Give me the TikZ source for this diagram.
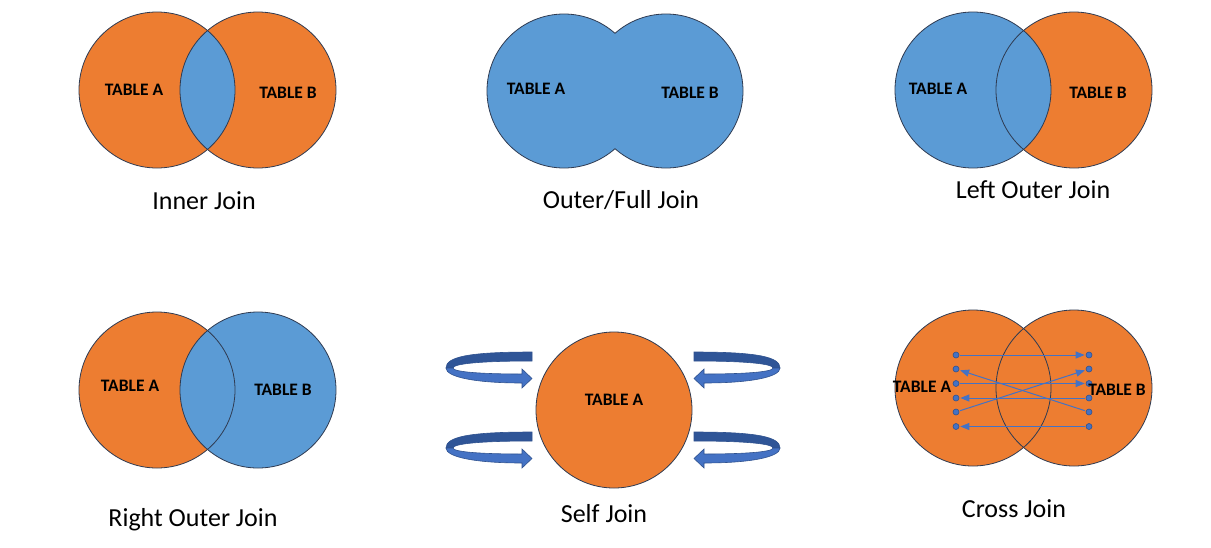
\documentclass[tikz,border=0pt]{standalone}
\usepackage{fontspec}
\setmainfont{Carlito}
\usetikzlibrary{arrows.meta}
\definecolor{vorange}{HTML}{ED7D31}
\definecolor{vblue}{HTML}{5B9BD5}
\definecolor{edge}{HTML}{2F3B52}
\definecolor{afront}{HTML}{4472C4}
\definecolor{aback}{HTML}{2F5597}
\definecolor{aedge}{HTML}{2F528F}
\tikzset{
  ring/.style={draw=edge, line width=0.8pt},
  tlabel/.style={font=\fontsize{17.5}{19}\selectfont\bfseries, inner sep=0pt},
  jlabel/.style={font=\fontsize{26}{30}\selectfont, inner sep=0pt},
  dotnode/.style={circle, fill=afront, draw=aedge, line width=0.6pt, minimum size=6pt, inner sep=0pt},
  carrow/.style={draw=afront, line width=1pt, -{Triangle[length=9pt,width=7pt]}, shorten >=1pt, shorten <=1pt},
  fronts/.style={fill=afront, draw=aedge, line width=0.6pt},
  backs/.style={fill=aback, draw=aedge, line width=0.6pt}
}
\newcommand{\selfarrow}{%
  \path[backs] (532,352) .. controls (468,352) and (446,357) .. (446,368) -- (453,368) .. controls (453,364) and (478,361) .. (532,361) -- cycle;
  \path[fronts] (446,368) .. controls (446,377) and (475,383) .. (522,383) -- (522,388) -- (532,378.5) -- (522,369) -- (522,374) .. controls (482,374) and (453,372) .. (453,368) -- cycle;
}
\begin{document}
\begin{tikzpicture}[x=1pt,y=-1pt]
\useasboundingbox (0,0) rectangle (1211,547);
\fill[white] (0,0) rectangle (1211,547);

% ---------- Inner Join ----------
\fill[vorange] (157,90) circle (78pt);
\fill[vorange] (258,90) circle (78pt);
\begin{scope}
  \clip (157,90) circle (78pt);
  \fill[vblue] (258,90) circle (78pt);
\end{scope}
\draw[ring] (157,90) circle (78pt);
\draw[ring] (258,90) circle (78pt);
\node[tlabel] (iA) at (134,90) {TABLE A};
\node[tlabel] (iB) at (288,93) {TABLE B};
\node[jlabel] (iJ) at (204,201) {Inner Join};

% ---------- Outer/Full Join ----------
\fill[vblue] (564,91) circle (77pt);
\fill[vblue] (666,91) circle (77pt);
\begin{scope}[even odd rule]
  \clip (0,0) rectangle (1211,547) (666,91) circle (77pt);
  \draw[ring] (564,91) circle (77pt);
\end{scope}
\begin{scope}[even odd rule]
  \clip (0,0) rectangle (1211,547) (564,91) circle (77pt);
  \draw[ring] (666,91) circle (77pt);
\end{scope}
\node[tlabel] (oA) at (536,89) {TABLE A};
\node[tlabel] (oB) at (690,93) {TABLE B};
\node[jlabel] (oJ) at (621,200) {Outer/Full Join};

% ---------- Left Outer Join ----------
\fill[vorange] (1074,90) circle (78pt);
\fill[vblue] (973,90) circle (78pt);
\draw[ring] (973,90) circle (78pt);
\draw[ring] (1074,90) circle (78pt);
\node[tlabel] (lA) at (938,89) {TABLE A};
\node[tlabel] (lB) at (1098,93) {TABLE B};
\node[jlabel] (lJ) at (1033,190) {Left Outer Join};

% ---------- Right Outer Join ----------
\fill[vorange] (157,390) circle (78pt);
\fill[vblue] (258,390) circle (78pt);
\draw[ring] (157,390) circle (78pt);
\draw[ring] (258,390) circle (78pt);
\node[tlabel] (rA) at (130,386) {TABLE A};
\node[tlabel] (rB) at (283,390) {TABLE B};
\node[jlabel] (rJ) at (193,520) {Right Outer Join};

% ---------- Self Join ----------
\fill[vorange] (614,410) circle (78pt);
\draw[ring] (614,410) circle (78pt);
\node[tlabel] (sA) at (614,400) {TABLE A};
\node[jlabel] (sJ) at (604,514) {Self Join};
\selfarrow
\begin{scope}[yshift=-80pt]\selfarrow\end{scope}
\begin{scope}[shift={(1226,0)}, xscale=-1]\selfarrow\end{scope}
\begin{scope}[shift={(1226,80)}, xscale=-1]\selfarrow\end{scope}

% ---------- Cross Join ----------
\fill[vorange] (973,388) circle (78pt);
\fill[vorange] (1074,388) circle (78pt);
\draw[ring] (973,388) circle (78pt);
\draw[ring] (1074,388) circle (78pt);
\foreach \i/\yy in {1/355,2/369,3/383.5,4/398,5/412,6/426.5}{
  \node[dotnode] (L\i) at (956,\yy) {};
  \node[dotnode] (R\i) at (1089,\yy) {};
}
\draw[carrow] (L1) -- (R1);
\draw[carrow] (R5) -- (L2);
\draw[carrow] (L3) -- (R3);
\draw[carrow] (R4) -- (L4);
\draw[carrow] (L5) -- (R2);
\draw[carrow] (R6) -- (L6);
\node[tlabel] (cA) at (922,387) {TABLE A};
\node[tlabel] (cB) at (1117,390) {TABLE B};
\node[jlabel] (cJ) at (1014,509) {Cross Join};
\end{tikzpicture}
\end{document}
